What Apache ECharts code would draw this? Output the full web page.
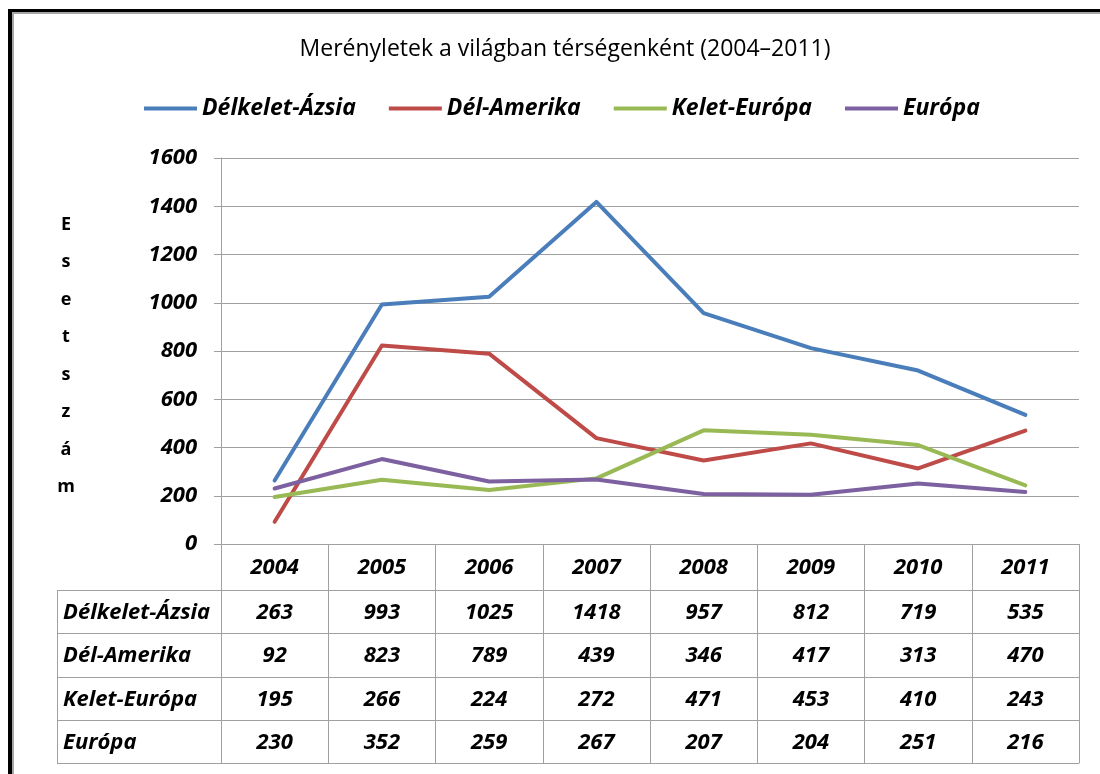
<!DOCTYPE html>
<html>
<head>
<meta charset="utf-8">
<script src="https://cdn.jsdelivr.net/npm/echarts@6/dist/echarts.min.js"></script>
<style>
  html, body { margin: 0; padding: 0; background: #fff; }
  #frame { position: absolute; left: 8px; top: 9px; width: 1200px; height: 900px;
           border-left: 4px solid #000; border-top: 3px solid #000; }
  #inner { position: absolute; left: 0; top: 0; width: 100%; height: 100%;
           border-left: 2px solid #a6a6a6; border-top: 2px solid #a6a6a6; }
  #chart { position: absolute; left: 0; top: 0; width: 1100px; height: 774px; }
</style>
</head>
<body>
<div id="frame"><div id="inner"></div></div>
<div id="chart"></div>
<script>
// adatok
const years = ["2004", "2005", "2006", "2007", "2008", "2009", "2010", "2011"];
const regions = ["Délkelet-Ázsia", "Dél-Amerika", "Kelet-Európa", "Európa"];
const delkeletAzsia = [263, 993, 1025, 1418, 957, 812, 719, 535];
const delAmerika = [92, 823, 789, 439, 346, 417, 313, 470];
const keletEuropa = [195, 266, 224, 272, 471, 453, 410, 243];
const europa = [230, 352, 259, 267, 207, 204, 251, 216];
const colors = ["#4a7ebb", "#be4b48", "#98b954", "#7d60a0"];

const rows = [delkeletAzsia, delAmerika, keletEuropa, europa];
const font = "'Open Sans', Lato, sans-serif";
const gridColor = "#a0a0a0";
// tablazat sorainak teteje (x tengelytol merve)
const rowTops = [46, 89, 133, 176];
const tableBottom = 219;
const axisY = 544;

const chart = echarts.init(document.getElementById("chart"));

// tablazat sorai: extra x tengelyek, a cimkek a sor ertekei
const rowAxes = rows.map((vals, r) => ({
  type: "category",
  data: years,
  position: "bottom",
  offset: rowTops[r],
  axisLine: { show: true, lineStyle: { color: gridColor, width: 1 } },
  axisTick: { show: false },
  axisLabel: {
    interval: 0, margin: 12,
    fontFamily: font, fontSize: 22, fontWeight: "bold", fontStyle: "italic", color: "#000",
    formatter: (v, i) => String(vals[i])
  }
}));

// sorok nevei es bal oszlop keretei
const graphics = [];
regions.forEach((name, r) => {
  const top = axisY + rowTops[r];
  const bottom = axisY + (r < 3 ? rowTops[r + 1] : tableBottom);
  graphics.push({
    type: "text", x: 63, y: (top + bottom) / 2 + 1,
    style: { text: name, font: "italic bold 22px " + font, fill: "#000", verticalAlign: "middle" }
  });
  graphics.push({
    type: "line", shape: { x1: 57, y1: top + 0.5, x2: 221, y2: top + 0.5 },
    style: { stroke: gridColor, lineWidth: 1 }
  });
});
graphics.push({
  type: "line", shape: { x1: 57, y1: axisY + tableBottom + 0.5, x2: 221, y2: axisY + tableBottom + 0.5 },
  style: { stroke: gridColor, lineWidth: 1 }
});
graphics.push({
  type: "line", shape: { x1: 57.5, y1: axisY + rowTops[0], x2: 57.5, y2: axisY + tableBottom + 1 },
  style: { stroke: gridColor, lineWidth: 1 }
});
// fuggoleges tengelycim, betuk egymas alatt
graphics.push({
  type: "text", x: 66, y: 356,
  style: {
    text: "E\ns\ne\nt\ns\nz\ná\nm",
    font: "bold 18px " + font, fill: "#000",
    align: "center", verticalAlign: "middle", lineHeight: 37.5
  }
});

const option = {
  animation: false,
  color: colors,
  title: {
    text: "Merényletek a világban térségenként (2004–2011)",
    left: 560, top: 33, textAlign: "center",
    textStyle: { fontFamily: font, fontSize: 23, fontWeight: "normal", color: "#000" }
  },
  legend: {
    top: 92, left: 139,
    icon: "rect",
    itemWidth: 53, itemHeight: 4, itemGap: 33,
    textStyle: { fontFamily: font, fontSize: 23, fontWeight: "bold", fontStyle: "italic", color: "#000" }
  },
  grid: { left: 221, right: 21, top: 158, bottom: 774 - axisY, containLabel: false },
  xAxis: [
    {
      type: "category",
      data: years,
      position: "bottom",
      boundaryGap: true,
      axisLine: { show: true, lineStyle: { color: gridColor, width: 1 } },
      axisTick: { show: true, interval: 0, length: tableBottom, lineStyle: { color: gridColor, width: 1 } },
      axisLabel: {
        interval: 0, margin: 13,
        fontFamily: font, fontSize: 22, fontWeight: "bold", fontStyle: "italic", color: "#000"
      }
    },
    ...rowAxes,
    {
      type: "category", data: years, position: "bottom", offset: tableBottom,
      axisLine: { show: true, lineStyle: { color: gridColor, width: 1 } },
      axisTick: { show: false }, axisLabel: { show: false }
    }
  ],
  yAxis: {
    type: "value",
    min: 0, max: 1600, interval: 200,
    axisLine: { show: true, lineStyle: { color: gridColor, width: 1 } },
    axisTick: { show: true, length: 7, lineStyle: { color: gridColor, width: 1 } },
    splitLine: { show: true, lineStyle: { color: gridColor, width: 1 } },
    axisLabel: {
      margin: 24,
      formatter: (v) => String(v),
      fontFamily: font, fontSize: 22, fontWeight: "bold", fontStyle: "italic", color: "#000"
    }
  },
  series: regions.map((name, r) => ({
    name: name,
    type: "line",
    data: rows[r],
    symbol: "none",
    lineStyle: { width: 4, color: colors[r], cap: "round", join: "round" },
    itemStyle: { color: colors[r] }
  })),
  graphic: graphics
};

chart.setOption(option);
</script>
</body>
</html>
